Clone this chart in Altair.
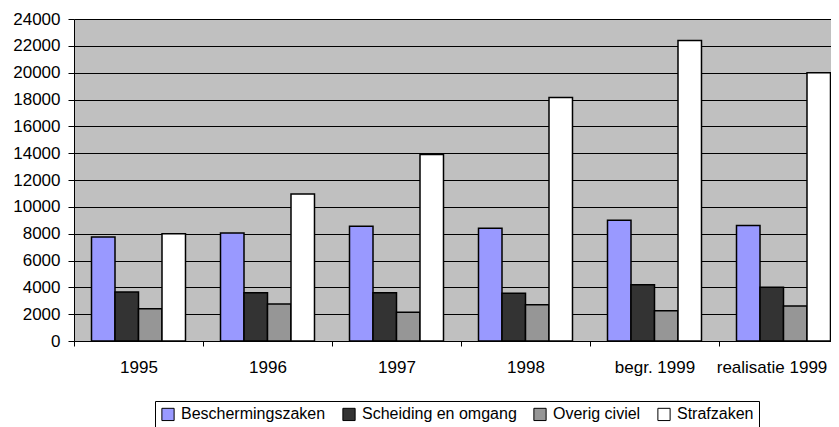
import altair as alt
import pandas as pd

categories = ["1995", "1996", "1997", "1998", "begr. 1999", "realisatie 1999"]
series = ["Beschermingszaken", "Scheiding en omgang", "Overig civiel", "Strafzaken"]
beschermingszaken = [7750, 8050, 8550, 8400, 9000, 8600]
scheiding_omgang = [3650, 3600, 3600, 3550, 4200, 4000]
overig_civiel = [2400, 2750, 2150, 2700, 2250, 2600]
strafzaken = [8000, 10950, 13900, 18150, 22400, 20000]
colors = ["#9999FF", "#333333", "#969696", "#FFFFFF"]
y_ticks = list(range(0, 24001, 2000))

rows = []
for i, c in enumerate(categories):
    for s, vals in zip(series, [beschermingszaken, scheiding_omgang, overig_civiel, strafzaken]):
        rows.append({"jaar": c, "reeks": s, "aantal": vals[i]})
df = pd.DataFrame(rows)

FONT = "Liberation Sans"

chart = alt.Chart(df).mark_bar(stroke="black", strokeWidth=1.5).encode(
    x=alt.X(
        "jaar:N", sort=categories, title=None,
        scale=alt.Scale(paddingInner=0, paddingOuter=0),
        axis=alt.Axis(labelAngle=0, tickBand="extent", domainColor="black", tickColor="black",
                      tickSize=5, labelPadding=13, labelFontSize=17, labelColor="black",
                      labelFont=FONT, grid=False,
                      labelOffset={"condition": {"test": "datum.value === 'realisatie 1999'",
                                                 "value": -12},
                                   "value": 0}),
    ),
    xOffset=alt.XOffset("reeks:N", sort=series,
                        scale=alt.Scale(domain=series, paddingInner=0, paddingOuter=0.745)),
    y=alt.Y(
        "aantal:Q", title=None,
        scale=alt.Scale(domain=[0, 24000], nice=False),
        axis=alt.Axis(values=y_ticks, format="d", grid=True, gridColor="black", gridOpacity=1,
                      gridWidth=1, domainColor="black", tickColor="black", tickSize=6,
                      labelPadding=8, labelFontSize=17, labelColor="black", labelFont=FONT),
    ),
    color=alt.Color(
        "reeks:N", sort=series,
        scale=alt.Scale(domain=series, range=colors),
        legend=alt.Legend(title=None, orient="none", legendX=81, legendY=382,
                          direction="horizontal", symbolType="square", symbolSize=150,
                          symbolStrokeColor="black", symbolStrokeWidth=1, symbolOpacity=1,
                          labelFontSize=16, labelFont=FONT, labelColor="black",
                          strokeColor="black", fillColor="white", padding=5,
                          columnPadding=14, labelOffset=5),
    ),
).properties(
    width=774, height=322,
    autosize=alt.AutoSizeParams(type="none"),
    padding={"top": 11, "left": 66, "right": -17, "bottom": 86},
).configure_view(fill="#C0C0C0", strokeWidth=0)

chart.save("out.html", embed_options={"renderer": "svg", "actions": False})
